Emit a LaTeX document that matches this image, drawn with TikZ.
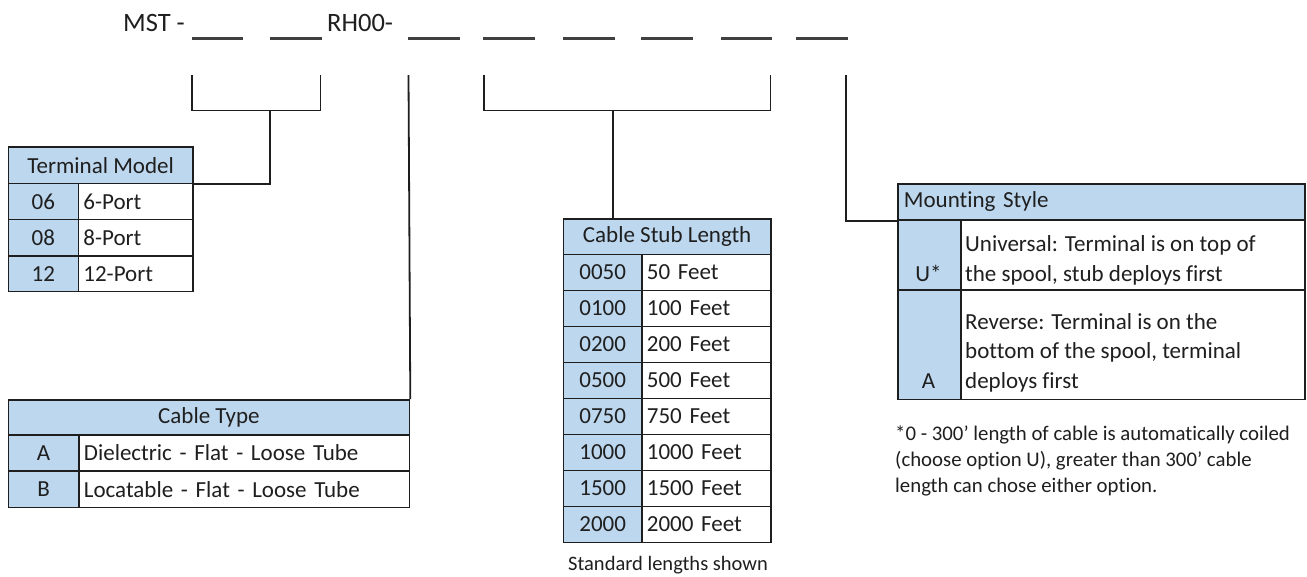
\documentclass[tikz,border=0pt]{standalone}
\usepackage{fontspec}
\setmainfont{Carlito}[Ligatures=NoCommon]
\definecolor{hb}{HTML}{BDD7EE}
\definecolor{lc}{HTML}{1E1E1E}
\definecolor{tc}{HTML}{1F1F1F}
\newcommand\fsz[2]{\fontsize{#1}{#2}\selectfont}
\begin{document}
\begin{tikzpicture}[x=1pt,y=-1pt,
  every node/.style={text=tc},
  cellbase/.style={draw=lc, line width=1.8pt, anchor=north west, inner sep=0pt, font=\fsz{23}{29.5}},
  hdr/.style={cellbase, fill=hb},
  keyc/.style={cellbase, fill=hb},
  valc/.style={cellbase, fill=white, align=left, inner xsep=5pt},
  wire/.style={draw=lc, line width=1.8pt},
  blank/.style={draw=lc!85, line width=2.7pt},
  title/.style={font=\fsz{26.5}{30}, anchor=base west, inner sep=0pt},
  note/.style={font=\fsz{20.8}{26}, align=left, anchor=south west, inner sep=0pt, text depth=0pt},
  multi/.style={font=\fsz{23}{29.5}, align=left, anchor=south west, inner sep=0pt, text depth=0pt}
]
\fill[white] (0,0) rectangle (1307,576);
\useasboundingbox (0,0) rectangle (1307,576);

% ---- part number line ----
\node[title] (mst) at (123,31.7) {MST -};
\node[title] (rh) at (327,31.7) {RH00-};
\foreach \a/\b in {192/243, 270/321.5, 408/460, 483/535, 563/615, 641/693, 721/772, 796/848}
  \draw[blank] (\a,38.3) -- (\b,38.3);

% ---- Terminal Model table ----
\node[hdr, minimum width=184.5pt, minimum height=36.5pt] (tmh) at (7.5,146) {Terminal Model};
\node[keyc, minimum width=70pt, minimum height=36pt] (tk1) at (7.5,182.5) {06};
\node[valc, text width=104.5pt, minimum height=36pt] (tv1) at (77.5,182.5) {6-Port};
\node[keyc, minimum width=70pt, minimum height=36.5pt] (tk2) at (7.5,218.5) {08};
\node[valc, text width=104.5pt, minimum height=36.5pt] (tv2) at (77.5,218.5) {8-Port};
\node[keyc, minimum width=70pt, minimum height=35.5pt] (tk3) at (7.5,255) {12};
\node[valc, text width=104.5pt, minimum height=35.5pt] (tv3) at (77.5,255) {12-Port};

% ---- Cable Type table ----
\node[hdr, minimum width=401pt, minimum height=35pt] (cth) at (7.5,399) {Cable Type};
\node[keyc, minimum width=70.5pt, minimum height=36pt] (ck1) at (7.5,434) {A};
\node[valc, text width=320.5pt, minimum height=36pt] (cv1) at (78,434) {Dielectric - Flat - Loose Tube};
\node[keyc, minimum width=70.5pt, minimum height=36.5pt] (ck2) at (7.5,470) {B};
\node[valc, text width=320.5pt, minimum height=36.5pt] (cv2) at (78,470) {Locatable - Flat - Loose Tube};

% ---- Cable Stub Length table ----
\node[hdr, minimum width=207.5pt, minimum height=35.5pt] (csh) at (562.5,218) {Cable Stub Length};
\foreach \k/\v [count=\i from 0] in {0050/50 Feet, 0100/100 Feet, 0200/200 Feet, 0500/500 Feet, 0750/750 Feet, 1000/1000 Feet, 1500/1500 Feet, 2000/2000 Feet}{
  \node[keyc, minimum width=78.5pt, minimum height=36pt] (sk\i) at (562.5,253.5+36*\i) {\k};
  \node[valc, text width=119pt, minimum height=36pt] (sv\i) at (641,253.5+36*\i) {\v};
}
\node[font=\fsz{20.5}{24}] (std) at (668,565) {Standard lengths shown};

% ---- Mounting Style table ----
\node[hdr, minimum width=407pt, minimum height=36pt, align=left, text width=395pt, inner xsep=6pt] (msh) at (897,183) {Mounting Style};
\node[keyc, minimum width=63pt, minimum height=70pt] (mk1) at (897,219) {};
\node[cellbase, fill=white, minimum width=344pt, minimum height=70pt] (mv1) at (960,219) {};
\node[keyc, minimum width=63pt, minimum height=109.5pt] (mk2) at (897,289) {};
\node[cellbase, fill=white, minimum width=344pt, minimum height=109.5pt] (mv2) at (960,289) {};
\node[font=\fsz{23}{29.5}, anchor=base, inner sep=0pt] (mu) at (928.5,281.5) {U*};
\node[font=\fsz{23}{29.5}, anchor=base, inner sep=0pt] (ma) at (928.5,388.5) {A};
\node[multi] (mt1) at (965,281.5) {Universal: Terminal is on top of\\the spool, stub deploys first};
\node[multi] (mt2) at (965,388.5) {Reverse: Terminal is on the\\bottom of the spool, terminal\\deploys first};

\node[note] (fn) at (895,492.5) {*0 - 300' length of cable is automatically coiled\\(choose option U), greater than 300' cable\\length can chose either option.};

% ---- connectors ----
\coordinate (b1l) at (192,75);
\coordinate (b1r) at (320.5,75);
\coordinate (b1m) at (270,110.5);
\draw[wire] (b1l) |- (b1r |- b1m) -- (b1r);
\draw[wire] (b1m) |- (tmh.south east);

\coordinate (ct) at (408.5,75);
\draw[wire] (ct) -- (cth.north east);

\coordinate (b2l) at (484,75);
\coordinate (b2r) at (770.5,75);
\coordinate (b2m) at (613,110.5);
\draw[wire] (b2l) |- (b2r |- b2m) -- (b2r);
\draw[wire] (b2m) -- (b2m |- csh.north);

\coordinate (ms) at (846,75);
\draw[wire] (ms) |- (msh.south west);
\end{tikzpicture}
\end{document}
